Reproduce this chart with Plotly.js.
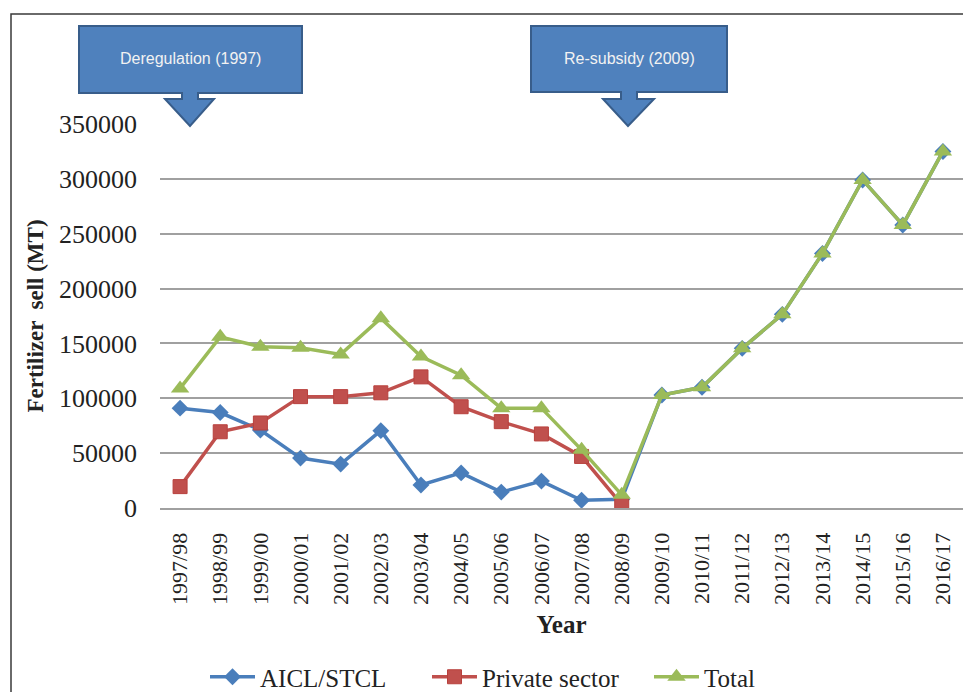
<!DOCTYPE html>
<html>
<head>
<meta charset="utf-8">
<script src="https://cdn.plot.ly/plotly-3.0.1.min.js"></script>
<style>html,body{margin:0;padding:0;background:#fff;}#chart{width:963px;height:692px;}</style>
</head>
<body>
<div id="chart"></div>
<script>
var years = ["1997/98","1998/99","1999/00","2000/01","2001/02","2002/03","2003/04","2004/05","2005/06","2006/07","2007/08","2008/09","2009/10","2010/11","2011/12","2012/13","2013/14","2014/15","2015/16","2016/17"];
var aicl = [91000,87000,71000,45500,40000,70500,21000,32000,14500,24500,7000,8000,103000,110000,145500,176500,232000,299000,258000,325000];
var privateSector = [19500,69500,77500,101500,101500,105000,119500,92300,78700,67500,47000,3000,null,null,null,null,null,null,null,null];
var total = [109000,156000,147000,146000,140000,173000,138000,121000,91000,91000,53000,12000,103000,110000,145500,176500,232000,299000,258000,325000];
var yTicks = [0,50000,100000,150000,200000,250000,300000,350000];

// plot area geometry (pixels) used for decoration placement
var L = 160, R = 963, T = 124, B = 508;
function px(x){ return (x - L) / (R - L); }
function py(y){ return (B - y) / (B - T); }
function calloutPath(x0, x1, y0, y1, sx0, sx1, hx0, hx1, tipx, stemBottom, tipy){
  var pts = [[x0,y0],[x1,y0],[x1,y1],[sx1,y1],[sx1,stemBottom],[hx1,stemBottom],[tipx,tipy],[hx0,stemBottom],[sx0,stemBottom],[sx0,y1],[x0,y1]];
  return 'M' + pts.map(function(p){ return px(p[0]).toFixed(5) + ',' + py(p[1]).toFixed(5); }).join(' L') + ' Z';
}

var serif = "Liberation Serif, Times New Roman, serif";
var traces = [
  {x: years, y: aicl, name: "AICL/STCL", type: "scatter", mode: "lines+markers",
   line: {color: "#4A7EBB", width: 3.5}, marker: {symbol: "diamond", size: 13, color: "#4A7EBB"}},
  {x: years, y: privateSector, name: "Private sector", type: "scatter", mode: "lines+markers",
   line: {color: "#C0504D", width: 3.5}, marker: {symbol: "square", size: 14, color: "#C0504D", line: {color: "#B8403D", width: 1}}},
  {x: years, y: total, name: "Total", type: "scatter", mode: "lines+markers",
   line: {color: "#9BBB59", width: 3.5}, marker: {symbol: "triangle-up", size: 16, color: "#9BBB59"}}
];

var layout = {
  width: 963, height: 692,
  margin: {l: L, r: 963 - R, t: T, b: 692 - B, autoexpand: false},
  paper_bgcolor: "#ffffff", plot_bgcolor: "#ffffff",
  showlegend: true,
  legend: {orientation: "h", xref: "container", yref: "container", x: 205 / 963, xanchor: "left", y: (692 - 654) / 692, yanchor: "top",
           font: {family: serif, size: 25, color: "#222"}, itemwidth: 45, entrywidth: 162, tracegroupgap: 0},
  xaxis: {
    type: "category", range: [-0.5, 19.5], tickangle: -90, automargin: false,
    tickfont: {family: serif, size: 22, color: "#222"},
    showgrid: false, showline: true, linecolor: "#A0A0A0", linewidth: 2,
    ticks: "", ticklabelstandoff: 14,
    title: {text: "<b>Year</b>", font: {family: serif, size: 25, color: "#222"}, standoff: 12}
  },
  yaxis: {
    range: [0, 350000], tickvals: yTicks, ticktext: yTicks.map(String), automargin: false,
    tickfont: {family: serif, size: 26, color: "#222"},
    showgrid: true, gridcolor: "#A0A0A0", gridwidth: 2,
    zeroline: false, showline: false, ticks: "", ticklabelstandoff: 22,
    title: {text: "<b>Fertilizer  sell (MT)</b>", font: {family: serif, size: 23, color: "#222"}, standoff: 8}
  },
  shapes: [
    {type: "rect", xref: "paper", yref: "paper", x0: px(11), x1: px(1100), y0: py(14), y1: py(800),
     line: {color: "#3a3a3a", width: 1.5}, fillcolor: "rgba(0,0,0,0)", layer: "below"},
    {type: "path", xref: "paper", yref: "paper", path: calloutPath(79, 302, 26, 93, 182, 198, 165, 214, 190, 99, 126),
     fillcolor: "#4F81BD", line: {color: "#385D8A", width: 2}},
    {type: "path", xref: "paper", yref: "paper", path: calloutPath(531, 727, 26, 92, 621, 637, 603, 654, 628, 99, 126),
     fillcolor: "#4F81BD", line: {color: "#385D8A", width: 2}}
  ],
  annotations: [
    {xref: "paper", yref: "paper", x: px(190), y: py(58), xanchor: "center", yanchor: "middle", text: "Deregulation (1997)", showarrow: false,
     font: {family: "Liberation Sans, Arial, sans-serif", size: 16, color: "#F2F2F2"}},
    {xref: "paper", yref: "paper", x: px(629), y: py(58), xanchor: "center", yanchor: "middle", text: "Re-subsidy (2009)", showarrow: false,
     font: {family: "Liberation Sans, Arial, sans-serif", size: 16, color: "#F2F2F2"}}
  ]
};

Plotly.newPlot("chart", traces, layout, {displayModeBar: false, staticPlot: true});
</script>
</body>
</html>
